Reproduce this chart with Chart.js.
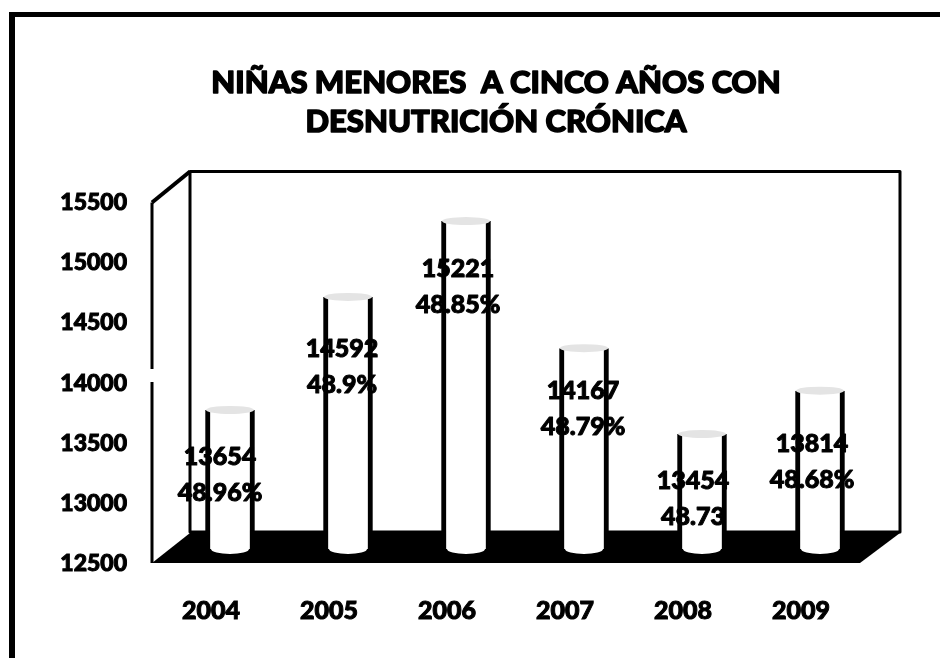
<!DOCTYPE html>
<html>
<head>
<meta charset="utf-8">
<style>html,body{margin:0;padding:0;background:#fff}canvas{display:block}</style>
<script src="https://cdn.jsdelivr.net/npm/chart.js@4/dist/chart.umd.min.js"></script>
</head>
<body>
<canvas id="c" width="940" height="658"></canvas>
<script>
const years = ['2004','2005','2006','2007','2008','2009'];
const counts = [13654,14592,15221,14167,13454,13814];
const shares = ['48.96%','48.9%','48.85%','48.79%','48.73','48.68%'];
const titleLines = ['NIÑAS MENORES  A CINCO AÑOS CON','DESNUTRICIÓN CRÓNICA'];
const labelNudgeX = [-10,-6,-8,-1,-9,-8];
const labelNudgeY = [47,52,48,43,47,53];

const FONT = 'Lato, "Open Sans", sans-serif';
const TITLE_SIZE = 31, TITLE_LH = 1.25, TITLE_PAD_TOP = 64, TITLE_CENTER = 496;
const DEPTH_X = 38, DEPTH_Y = 31, SHIFT_X = 19, SHIFT_Y = -15;

const frame3d = {
  id:'frame3d',
  afterLayout(chart){
    // the title sits left of the plot's centre in the reference
    const tb = chart.titleBlock;
    tb.left = TITLE_CENTER*2 - tb.right;
  },
  beforeDraw(chart){
    const {ctx, chartArea:a} = chart;
    const l=a.left, r=a.right, t=a.top, b=a.bottom-1;
    ctx.save();
    ctx.fillStyle='#fff'; ctx.fillRect(0,0,chart.width,chart.height);
    // page frame
    ctx.fillStyle='#000';
    ctx.fillRect(9,12,6,chart.height-12);
    ctx.fillRect(9,12,chart.width-9,5);
    // floor
    ctx.beginPath();
    ctx.moveTo(l,b); ctx.lineTo(r,b); ctx.lineTo(r+40,b-DEPTH_Y+1); ctx.lineTo(l+DEPTH_X,b-DEPTH_Y+1); ctx.closePath();
    ctx.fill();
    ctx.strokeStyle='#000'; ctx.lineJoin='round';
    // back wall
    ctx.lineWidth=3;
    ctx.strokeRect(l+DEPTH_X,t-DEPTH_Y,r+40-l-DEPTH_X,b-t);
    // side wall
    ctx.beginPath();
    ctx.moveTo(l+DEPTH_X,t-DEPTH_Y); ctx.lineTo(l,t);
    ctx.lineWidth=4; ctx.stroke();
    ctx.lineWidth=3;
    ctx.beginPath();
    ctx.moveTo(l,t); ctx.lineTo(l,369);
    ctx.moveTo(l,382); ctx.lineTo(l,b);
    ctx.stroke();
    ctx.restore();
  },
  beforeDatasetsDraw(chart){
    chart.ctx.save();
    chart.ctx.translate(SHIFT_X,SHIFT_Y);
  },
  afterDatasetsDraw(chart){
    const ctx=chart.ctx, meta=chart.getDatasetMeta(0);
    const basePx = chart.scales.y.getPixelForValue(chart.scales.y.min);
    meta.data.forEach(bar=>{
      // rounded foot of the cylinder
      ctx.fillStyle='#fff';
      ctx.beginPath(); ctx.ellipse(bar.x,basePx,19,5,0,0,Math.PI*2); ctx.fill();
      // cap of the cylinder
      ctx.fillStyle='#e4e4e4';
      ctx.beginPath(); ctx.ellipse(bar.x,bar.y,24,4,0,0,Math.PI*2); ctx.fill();
    });
    ctx.restore();
    ctx.save();
    ctx.fillStyle='#000'; ctx.strokeStyle='#000'; ctx.lineWidth=1; ctx.lineJoin='round';
    ctx.font='900 25px '+FONT;
    ctx.textAlign='center'; ctx.textBaseline='middle';
    meta.data.forEach((bar,i)=>{
      const x=bar.x+SHIFT_X+labelNudgeX[i], y=bar.y+SHIFT_Y+labelNudgeY[i];
      [[String(counts[i]),y],[shares[i],y+36]].forEach(([s,yy])=>{
        ctx.fillText(s,x,yy); ctx.strokeText(s,x,yy);
      });
    });
    ctx.restore();
  },
  afterDraw(chart){
    // thicken the title to the reference's heavy scanned weight
    const ctx=chart.ctx, tb=chart.titleBlock, lh=TITLE_SIZE*TITLE_LH;
    ctx.save();
    ctx.strokeStyle='#000'; ctx.lineWidth=1.5; ctx.lineJoin='round';
    ctx.font='900 '+TITLE_SIZE+'px '+FONT;
    ctx.textAlign='center'; ctx.textBaseline='middle';
    titleLines.forEach((s,i)=>ctx.strokeText(s,(tb.left+tb.right)/2,tb.top+TITLE_PAD_TOP+lh*(i+0.5)));
    ctx.restore();
  }
};

new Chart(document.getElementById('c'),{
  type:'bar',
  data:{labels:years,datasets:[{
    data:counts,
    backgroundColor:'#fff',
    borderColor:'#000',
    borderWidth:{left:5,right:5,top:0,bottom:0},
    barThickness:49,
    borderSkipped:false
  }]},
  plugins:[frame3d],
  options:{
    responsive:false,animation:false,
    layout:{padding:{left:0,right:80,top:0,bottom:0}},
    plugins:{
      legend:{display:false},tooltip:{enabled:false},
      title:{display:true,text:titleLines,color:'#000',
        font:{family:FONT,size:TITLE_SIZE,weight:'900',lineHeight:TITLE_LH},
        padding:{top:TITLE_PAD_TOP,bottom:61}}
    },
    scales:{
      x:{
        grid:{display:false,drawTicks:false},border:{display:false},
        afterFit(s){s.height=94;},
        ticks:{color:'#000',padding:32,autoSkip:false,maxRotation:0,textStrokeColor:'#000',textStrokeWidth:1,font:{family:FONT,size:25,weight:'900'}}
      },
      y:{
        min:12500,max:15500,
        grid:{display:false,drawTicks:false},border:{display:false},
        afterFit(s){s.width=152;},
        ticks:{color:'#000',padding:25,stepSize:500,autoSkip:false,textStrokeColor:'#000',textStrokeWidth:1,
          callback:v=>String(v),font:{family:FONT,size:23,weight:'900'}}
      }
    }
  }
});
</script>
</body>
</html>
